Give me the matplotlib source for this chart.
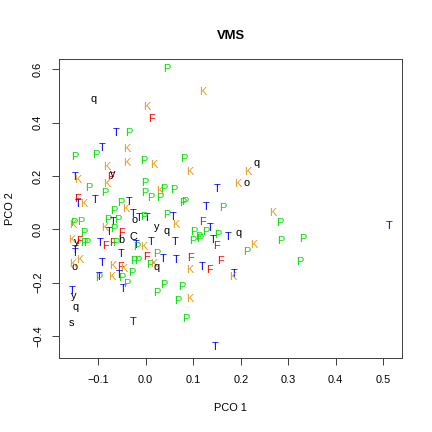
import matplotlib
matplotlib.use("Agg")
import matplotlib.pyplot as plt

plt.rcParams['font.family'] = ['Liberation Sans', 'DejaVu Sans']

# sample labels with their PCO scores
labels = ['P', 'q', 'K', 'F', 'T', 'P', 'T', 'K', 'P', 'P',
          'K', 'P', 'K', 'P', 'K', 'T', 'K', 'K', 'F', 'y',
          'K', 'K', 'q', 'K', 'o', 'T', 'P', 'K', 'P', 'P',
          'P', 'P', 'K', 'P', 'P', 'P', 'F', 'T', 'K', 'T',
          'P', 'T', 'P', 'K', 'P', 'P', 'T', 'T', 'o', 'T',
          'P', 'P', 'T', 'P', 'K', 'P', 'P', 'T', 'P', 'K',
          'T', 'P', 'F', 'y', 'q', 'K', 'P', 'K', 'y', 'F',
          'P', 'P', 'b', 'C', 'T', 'F', 'F', 'P', 'T', 'P',
          'K', 'T', 'T', 'T', 'T', 'K', 'o', 'K', 'T', 'P',
          'P', 'P', 'F', 'P', 'K', 'q', 'T', 'T', 'F', 'T',
          'K', 'F', 'K', 'T', 'P', 'P', 'K', 'T', 'P', 'T',
          'P', 'P', 'P', 'T', 'y', 'P', 'K', 'P', 'T', 'T',
          'q', 's', 'T', 'P', 'K', 'P', 'F', 'T', 'P', 'P',
          'P', 'P', 'P', 'T', 'F', 'P', 'T', 'q', 'K', 'P',
          'P', 'P', 'P', 'T', 'T', 'F', 'F', 'K', 'T', 'K',
          'P']
pco1 = [0.044, -0.110, 0.003, 0.013, -0.063, -0.036, -0.091, -0.040, -0.149, -0.105,
        -0.040, -0.004, 0.017, 0.081, 0.092, -0.148, -0.142, -0.081, -0.075, -0.069,
        0.121, 0.214, 0.234, 0.193, 0.213, 0.151, -0.119, -0.082, -0.087, -0.001,
        -0.002, 0.011, 0.029, 0.039, 0.030, 0.060, -0.144, -0.142, -0.130, -0.106,
        -0.052, -0.035, -0.067, -0.043, 0.078, 0.083, -0.027, -0.013, -0.023, 0.003,
        -0.003, 0.045, 0.058, -0.151, -0.154, -0.137, -0.079, -0.068, -0.058, -0.086,
        -0.077, -0.068, -0.051, 0.024, 0.043, 0.064, -0.131, -0.156, -0.145, -0.140,
        -0.131, -0.124, -0.052, -0.025, -0.096, -0.084, -0.070, -0.063, -0.020, -0.019,
        -0.005, 0.011, 0.062, -0.149, -0.148, -0.138, -0.149, -0.154, -0.052, 0.023,
        -0.025, -0.017, 0.001, 0.009, 0.016, 0.023, 0.037, 0.064, 0.095, -0.092,
        -0.069, -0.054, -0.047, -0.057, -0.051, -0.030, -0.072, -0.098, -0.098, -0.047,
        -0.039, 0.039, 0.023, -0.154, -0.152, 0.067, 0.092, 0.085, -0.026, 0.146,
        -0.147, -0.156, 0.128, 0.163, 0.267, 0.283, 0.120, 0.135, 0.102, 0.111,
        0.127, 0.100, 0.114, 0.141, 0.149, 0.152, 0.173, 0.196, 0.228, 0.213,
        0.284, 0.331, 0.325, 0.512, 0.119, 0.135, 0.158, 0.093, 0.186, 0.183,
        0.076]
pco2 = [0.600, 0.487, 0.457, 0.412, 0.360, 0.360, 0.304, 0.300, 0.270, 0.277,
        0.247, 0.255, 0.240, 0.262, 0.216, 0.197, 0.185, 0.232, 0.195, 0.207,
        0.516, 0.216, 0.247, 0.170, 0.175, 0.150, 0.154, 0.170, 0.137, 0.172,
        0.135, 0.116, 0.145, 0.151, 0.116, 0.147, 0.112, 0.095, 0.094, 0.110,
        0.097, 0.101, 0.070, 0.075, 0.097, 0.101, 0.056, 0.043, 0.035, 0.041,
        0.047, 0.054, 0.047, 0.025, 0.016, 0.028, 0.035, 0.028, 0.035, 0.004,
        -0.009, 0.000, -0.015, 0.007, -0.005, 0.016, -0.015, -0.040, -0.046, -0.043,
        -0.050, -0.050, -0.040, -0.028, -0.052, -0.063, -0.052, -0.052, -0.060, -0.067,
        -0.067, -0.049, -0.046, -0.078, -0.090, -0.115, -0.140, -0.130, -0.094, -0.093,
        -0.118, -0.118, -0.105, -0.134, -0.131, -0.142, -0.112, -0.115, -0.109, -0.127,
        -0.138, -0.140, -0.150, -0.171, -0.184, -0.165, -0.178, -0.178, -0.183, -0.225,
        -0.205, -0.209, -0.238, -0.230, -0.250, -0.268, -0.262, -0.337, -0.346, -0.442,
        -0.290, -0.350, 0.085, 0.081, 0.060, 0.025, 0.028, 0.004, -0.009, -0.028,
        -0.009, -0.043, -0.037, -0.040, -0.063, -0.021, -0.028, -0.013, -0.059, -0.084,
        -0.043, -0.037, -0.121, 0.012, -0.140, -0.153, -0.118, -0.153, -0.168, -0.180,
        -0.217]

letter_colors = {'P': '#00E000', 'K': '#E59A1E', 'T': '#0000FF', 'F': '#FF0000'}

fig = plt.figure(figsize=(6, 6), dpi=72)
ax = fig.add_axes([0.1366, 0.1713, 0.794, 0.6921])

for lab, xv, yv in zip(labels, pco1, pco2):
    ax.text(xv, yv, lab, color=letter_colors.get(lab, 'black'),
            ha='center', va='center', fontsize=11)

ax.set_xlim(-0.1825, 0.5396)
ax.set_ylim(-0.4826, 0.6386)
ax.set_xticks([-0.1, 0.0, 0.1, 0.2, 0.3, 0.4, 0.5])
ax.set_yticks([-0.4, -0.2, 0.0, 0.2, 0.4, 0.6])
ax.set_xticklabels(['\u22120.1', '0.0', '0.1', '0.2', '0.3', '0.4', '0.5'])
ax.set_yticklabels(['\u22120.4', '\u22120.2', '0.0', '0.2', '0.4', '0.6'],
                   rotation=90, va='center')
for s in ax.spines.values():
    s.set_color('#444444')
    s.set_linewidth(1)
ax.tick_params(axis='x', length=7, width=1, color='#444444', labelsize=11, pad=10)
ax.tick_params(axis='y', length=7, width=1, color='#444444', labelsize=11, pad=9)

ax.set_xlabel('PCO 1', fontsize=11, labelpad=18)
ax.set_ylabel('PCO 2', fontsize=11, labelpad=18)
ax.set_title('VMS', fontsize=13, fontweight='bold', pad=20)

fig.savefig('out.png', dpi=72)
